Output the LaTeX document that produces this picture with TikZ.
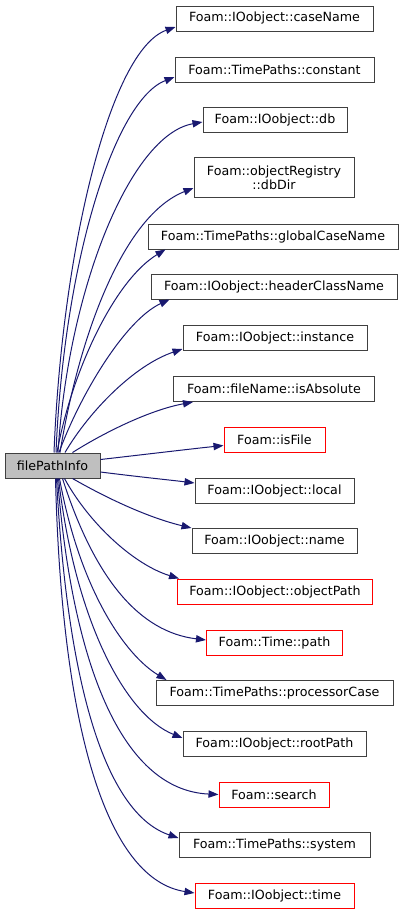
\documentclass[tikz,border=0pt]{standalone}
\usepackage{fontspec}
\setmainfont{DejaVu Sans}
\usetikzlibrary{arrows.meta,calc}
\definecolor{edgeblue}{HTML}{191970}
\definecolor{boxgray}{HTML}{BFBFBF}
\definecolor{boxline}{HTML}{404040}
\begin{document}
\begin{tikzpicture}[x=0.75pt,y=-0.75pt,
  every node/.style={font=\fontsize{9.5}{11.5}\selectfont, inner sep=0pt, align=center},
  fn/.style={draw=boxline, line width=0.75pt, fill=white, minimum height=18.75pt, minimum width=#1*0.75pt},
  fnred/.style={fn=#1, draw=red},
  src/.style={fn=#1, fill=boxgray},
  call/.style={draw=edgeblue, line width=0.75pt, -{Triangle[length=7.5pt,width=5.5pt]}, fill=none}]
\useasboundingbox (0,0) rectangle (407,915);
\node[src=95] (s) at (52.5,465.5) {filePathInfo};
\node[fn=197] (n1) at (274.5,18.5) {Foam::IOobject::caseName};
\node[fn=199] (n2) at (274.5,69.5) {Foam::TimePaths::constant};
\node[fn=144] (n3) at (275,119.5) {Foam::IOobject::db};
\node[fn=160, minimum height=30pt] (n4) at (274,177.5) {Foam::objectRegistry\\[-1pt]::dbDir};
\node[fn=250] (n5) at (273,236.5) {Foam::TimePaths::globalCaseName};
\node[fn=246] (n6) at (274,286.5) {Foam::IOobject::headerClassName};
\node[fn=184] (n7) at (275,338) {Foam::IOobject::instance};
\node[fn=201] (n8) at (274,389) {Foam::fileName::isAbsolute};
\node[fnred=101] (n9) at (274.5,439.5) {Foam::isFile};
\node[fn=159] (n10) at (274.5,490.5) {Foam::IOobject::local};
\node[fn=165] (n11) at (274.5,541) {Foam::IOobject::name};
\node[fnred=195] (n12) at (275,591.5) {Foam::IOobject::objectPath};
\node[fnred=136] (n13) at (274.5,642.5) {Foam::Time::path};
\node[fn=237] (n14) at (274.5,693) {Foam::TimePaths::processorCase};
\node[fn=183] (n15) at (274.5,743.5) {Foam::IOobject::rootPath};
\node[fnred=110] (n16) at (274,794.5) {Foam::search};
\node[fn=191] (n17) at (274.5,845) {Foam::TimePaths::system};
\node[fnred=159] (n18) at (274.5,895.5) {Foam::IOobject::time};

\draw[call] ($(s.north)+(1.5,0)$) .. controls (62,250) and (110,50) .. ($(n1.west)+(0,8.5)$);
\draw[call] ($(s.north)+(3.5,0)$) .. controls (64,260) and (115,100) .. ($(n2.west)+(0,7.5)$);
\draw[call] ($(s.north)+(5.5,0)$) .. controls (68,290) and (130,135) .. ($(n3.west)+(0,2.5)$);
\draw[call] ($(s.north)+(7.5,0)$) .. controls (80,330) and (125,215) .. ($(n4.west)+(0,10.5)$);
\draw[call] ($(s.north)+(4.5,0)$) .. controls (72,370) and (115,280) .. ($(n5.south west)+(18,0)$);
\draw[call] ($(s.north)+(6.5,0)$) .. controls (80,395) and (125,320) .. ($(n6.south west)+(19,0)$);
\draw[call] ($(s.north)+(12.5,0)$) .. controls (90,410) and (135,365) .. ($(n7.west)+(0,11)$);
\draw[call] ($(s.north)+(20,0)$) .. controls (105,432) and (150,410) .. ($(n8.south west)+(20,0)$);
\draw[call] ($(s.east)+(0,-6)$) .. controls (140,455) and (190,449) .. ($(n9.west)+(0,6)$);
\draw[call] ($(s.east)+(0,6.5)$) .. controls (140,477) and (170,480) .. ($(n10.west)+(0,-7.5)$);
\draw[call] ($(s.south)+(20,0)$) .. controls (110,500) and (150,518) .. ($(n11.north west)+(0,0)$);
\draw[call] ($(s.south)+(12,0)$) .. controls (90,525) and (135,565) .. ($(n12.north west)+(2,0)$);
\draw[call] ($(s.south)+(10,0)$) .. controls (95,580) and (140,632) .. ($(n13.west)+(0,-2.5)$);
\draw[call] ($(s.south)+(7,0)$) .. controls (80,590) and (125,655) .. ($(n14.north west)+(11,0)$);
\draw[call] ($(s.south)+(6,0)$) .. controls (75,620) and (125,715) .. ($(n15.west)+(0,-5.5)$);
\draw[call] ($(s.south)+(5,0)$) .. controls (72,660) and (120,790) .. ($(n16.west)+(0,0)$);
\draw[call] ($(s.south)+(4,0)$) .. controls (68,700) and (110,815) .. ($(n17.west)+(0,-7)$);
\draw[call] ($(s.south)+(3,0)$) .. controls (62,740) and (110,880) .. ($(n18.west)+(0,-2.5)$);
\end{tikzpicture}
\end{document}
